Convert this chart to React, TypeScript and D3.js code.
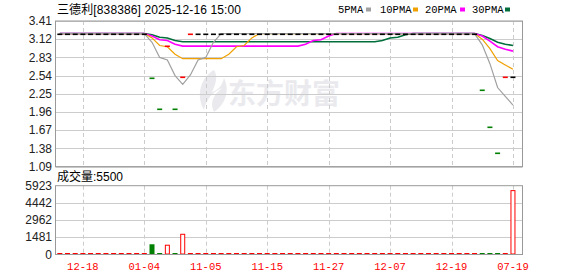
import React from "react";
import * as d3 from "d3";

const W = 578;
const H = 276;

const closes = [
  3.21, 3.21, 3.21, 3.21, 3.21, 3.21, 3.21, 3.21, 3.21, 3.21, 3.21, 3.21,
  2.5, 2.0, 3.01, 2.0, 2.51, 3.21,
  3.21, 3.21, 3.21, 3.21, 3.21, 3.21, 3.21, 3.21, 3.21, 3.21, 3.21, 3.21,
  3.21, 3.21, 3.21, 3.21, 3.21, 3.21, 3.21, 3.21, 3.21, 3.21, 3.21, 3.21,
  3.21, 3.21, 3.21, 3.21, 3.21, 3.21, 3.21, 3.21, 3.21, 3.21, 3.21, 3.21,
  3.21, 2.31, 1.72, 1.3, 2.51, 2.51,
];

const volumes = [
  0, 0, 0, 0, 0, 0, 0, 0, 0, 0, 0, 0,
  880, 0, 800, 0, 1740, 0,
  0, 0, 0, 0, 0, 0, 0, 0, 0, 0, 0, 0,
  0, 0, 0, 0, 0, 0, 0, 0, 0, 0, 0, 0,
  0, 0, 0, 0, 0, 0, 0, 0, 0, 0, 0, 0,
  0, 0, 0, 0, 0, 5500,
];

const ma5 = [
  3.21, 3.21, 3.21, 3.21, 3.21, 3.21, 3.21, 3.21, 3.21, 3.21, 3.21, 3.21,
  3.07, 2.83, 2.79, 2.54, 2.4, 2.55, 2.79, 2.83, 3.07,
  3.21, 3.21, 3.21, 3.21, 3.21, 3.21, 3.21, 3.21, 3.21, 3.21, 3.21, 3.21,
  3.21, 3.21, 3.21, 3.21, 3.21, 3.21, 3.21, 3.21, 3.21, 3.21, 3.21, 3.21,
  3.21, 3.21, 3.21, 3.21, 3.21, 3.21, 3.21, 3.21, 3.21, 3.21,
  3.03, 2.73, 2.35, 2.21, 2.07,
];

const ma10 = [
  3.21, 3.21, 3.21, 3.21, 3.21, 3.21, 3.21, 3.21, 3.21, 3.21, 3.21, 3.21,
  3.14, 3.02, 3.0, 2.88, 2.81, 2.81, 2.81, 2.81, 2.81, 2.81, 2.88, 3.0, 3.02, 3.14,
  3.21, 3.21, 3.21, 3.21, 3.21, 3.21, 3.21, 3.21, 3.21, 3.21, 3.21, 3.21,
  3.21, 3.21, 3.21, 3.21, 3.21, 3.21, 3.21, 3.21, 3.21, 3.21, 3.21, 3.21,
  3.21, 3.21, 3.21, 3.21, 3.21,
  3.12, 2.97, 2.78, 2.71, 2.64,
];

const ma20 = [
  3.21, 3.21, 3.21, 3.21, 3.21, 3.21, 3.21, 3.21, 3.21, 3.21, 3.21, 3.21,
  3.17, 3.11, 3.1, 3.04,
  3.01, 3.01, 3.01, 3.01, 3.01, 3.01, 3.01, 3.01, 3.01, 3.01, 3.01, 3.01,
  3.01, 3.01, 3.01, 3.01,
  3.04, 3.1, 3.11, 3.17,
  3.21, 3.21, 3.21, 3.21, 3.21, 3.21, 3.21, 3.21, 3.21, 3.21, 3.21, 3.21,
  3.21, 3.21, 3.21, 3.21, 3.21, 3.21, 3.21,
  3.17, 3.09, 3.0, 2.96, 2.93,
];

const ma30 = [
  3.21, 3.21, 3.21, 3.21, 3.21, 3.21, 3.21, 3.21, 3.21, 3.21, 3.21, 3.21,
  3.19, 3.15, 3.14, 3.1,
  3.08, 3.08, 3.08, 3.08, 3.08, 3.08, 3.08, 3.08, 3.08, 3.08, 3.08, 3.08, 3.08,
  3.08, 3.08, 3.08, 3.08, 3.08, 3.08, 3.08, 3.08, 3.08, 3.08, 3.08, 3.08, 3.08,
  3.1, 3.14, 3.15, 3.19,
  3.21, 3.21, 3.21, 3.21, 3.21, 3.21, 3.21, 3.21, 3.21,
  3.18, 3.13, 3.07, 3.04, 3.02,
];

const priceTicks = [3.41, 3.12, 2.83, 2.54, 2.25, 1.96, 1.67, 1.38, 1.09];
const volTicks = [5923, 4442, 2962, 1481, 0];
const dateTickIdx = [3, 11, 19, 27, 35, 43, 51, 59];
const dateTickLabels = ["12-18", "01-04", "11-05", "11-15", "11-27", "12-07", "12-19", "07-19"];

const legend = [
  { name: "5PMA", color: "#a0a0a0", x: 338, sx: 366 },
  { name: "10PMA", color: "#f0a000", x: 380, sx: 413 },
  { name: "20PMA", color: "#ff00ff", x: 425, sx: 460 },
  { name: "30PMA", color: "#006e3a", x: 472, sx: 505 },
];

const LEFT = 55.5;
const RIGHT = 522.5;
const P_TOP = 21;
const P_BOT = 166.6;
const V_TOP = 185.7;
const V_BOT = 254.5;

export default function App() {
  const idx = closes.map((_, i) => i);
  const x = d3.scaleBand<number>().domain(idx).range([56, 56 + 60 * 7.68]).padding(0);
  const cx = (i: number) => (x(i) as number) + x.bandwidth() / 2;
  const y = d3.scaleLinear().domain([1.09, 3.41]).range([P_BOT, P_TOP]);
  const yv = d3.scaleLinear().domain([0, 5923]).range([V_BOT, V_TOP]);

  const line = (arr: number[]) =>
    d3
      .line<number>()
      .x((_, i) => cx(i))
      .y((d) => y(d))(arr) as string;

  const dirOf = (i: number) => {
    if (i === 0) return 0;
    const d = closes[i] - closes[i - 1];
    return d > 0 ? 1 : d < 0 ? -1 : 0;
  };

  const cw = 5;
  const axisFont = "'Liberation Sans', Arial, sans-serif";
  const cjkFont = "'Liberation Sans', 'Noto Sans CJK SC', sans-serif";
  const monoFont = "'Liberation Mono', 'DejaVu Sans Mono', monospace";

  return (
    <svg width={W} height={H} style={{ position: "absolute", left: 0, top: 0, background: "#fff" }}>
      <rect x={0} y={0} width={W} height={H} fill="#fff" />

      {/* watermark */}
      <g>
        <path
          d="M214,70 C200,78 196,96 204,110 C206,100 212,92 222,88 C212,96 210,104 214,112 C226,104 230,90 224,78 C222,86 218,90 212,92 C216,84 218,76 214,70 Z"
          fill="#eaeaee"
        />
        <text x={228} y={104} fontSize={28} fontWeight="bold" fill="#eaeaee" fontFamily="'Noto Sans CJK SC', sans-serif">
          东方财富
        </text>
      </g>

      {/* title + legend */}
      <text x={57} y={14} fontSize={12} fill="#000" fontFamily={cjkFont} textLength={184} lengthAdjust="spacing">
        三德利[838386] 2025-12-16 15:00
      </text>
      {legend.map((l) => (
        <g key={l.name}>
          <text x={l.x} y={13} fontSize={10.5} fill="#000" fontFamily={monoFont}>
            {l.name}
          </text>
          <rect x={l.sx} y={7.5} width={5} height={4} fill={l.color} />
        </g>
      ))}

      {/* price grid */}
      {priceTicks.map((t) => (
        <g key={"p" + t}>
          <line x1={LEFT} x2={RIGHT} y1={Math.round(y(t)) + 0.5} y2={Math.round(y(t)) + 0.5} stroke="#cccccc" />
          <text x={52} y={y(t)} dy="0.35em" textAnchor="end" fontSize={12} fill="#222" fontFamily={axisFont}>
            {t.toFixed(2)}
          </text>
        </g>
      ))}
      {dateTickIdx.map((i) => (
        <line key={"vg" + i} x1={Math.round(cx(i)) + 0.5} x2={Math.round(cx(i)) + 0.5} y1={P_TOP} y2={P_BOT} stroke="#cccccc" strokeDasharray="4,3" />
      ))}

      {/* MA lines */}
      <path d={line(ma30)} fill="none" stroke="#006e3a" strokeWidth={1.6} />
      <path d={line(ma20)} fill="none" stroke="#ff00ff" strokeWidth={1.6} />
      <path d={line(ma10)} fill="none" stroke="#f0a000" strokeWidth={1.2} />
      <path d={line(ma5)} fill="none" stroke="#a0a0a0" strokeWidth={1.2} />

      {/* candles (flat) */}
      {closes.map((c, i) => {
        const d = dirOf(i);
        const col = d > 0 ? "#ff0000" : d < 0 ? "#008000" : "#000000";
        return <rect key={"c" + i} x={cx(i) - cw / 2} y={Math.round(y(c)) - 0.5} width={cw} height={1.6} fill={col} />;
      })}

      {/* price frame */}
      <rect x={LEFT} y={P_TOP} width={RIGHT - LEFT} height={P_BOT - P_TOP} fill="none" stroke="#999" />

      {/* volume panel */}
      <text x={57} y={181} fontSize={12} fill="#000" fontFamily={cjkFont}>
        成交量:5500
      </text>
      {volTicks.map((t) => (
        <g key={"v" + t}>
          {t !== 0 && t !== 5923 && (
            <line x1={LEFT} x2={RIGHT} y1={Math.round(yv(t)) + 0.5} y2={Math.round(yv(t)) + 0.5} stroke="#cccccc" />
          )}
          <text x={52} y={yv(t)} dy="0.35em" textAnchor="end" fontSize={12} fill="#222" fontFamily={axisFont}>
            {t}
          </text>
        </g>
      ))}
      {dateTickIdx.map((i) => (
        <line key={"vv" + i} x1={Math.round(cx(i)) + 0.5} x2={Math.round(cx(i)) + 0.5} y1={V_TOP} y2={V_BOT} stroke="#cccccc" strokeDasharray="4,3" />
      ))}
      {volumes.map((v, i) => {
        const d = dirOf(i);
        const col = d < 0 ? "#008000" : "#ff0000";
        if (v === 0) {
          return <rect key={"vb" + i} x={cx(i) - cw / 2} y={V_BOT - 1.5} width={cw} height={2} fill={col} />;
        }
        const top = yv(v);
        if (d < 0) {
          return <rect key={"vb" + i} x={cx(i) - cw / 2} y={top} width={cw} height={V_BOT - top} fill={col} />;
        }
        return (
          <rect key={"vb" + i} x={cx(i) - cw / 2 + 0.5} y={top} width={cw - 1} height={V_BOT - top - 0.5} fill="#fff" stroke={col} strokeWidth={1} />
        );
      })}
      <rect x={LEFT} y={V_TOP} width={RIGHT - LEFT} height={V_BOT - V_TOP} fill="none" stroke="#999" />

      {/* date labels */}
      {dateTickIdx.map((i, k) => (
        <text key={"dl" + i} x={cx(i)} y={270} textAnchor="middle" fontSize={10.5} fill="#ff0000" fontFamily={monoFont}>
          {dateTickLabels[k]}
        </text>
      ))}
    </svg>
  );
}
